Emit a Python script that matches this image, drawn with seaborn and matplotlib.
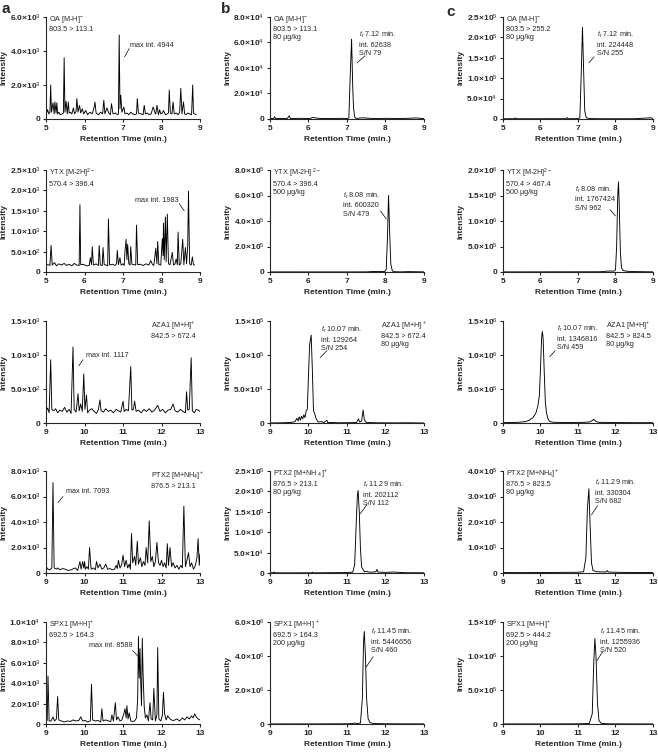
import math
import numpy as np
import seaborn as sns
import matplotlib.pyplot as plt
from matplotlib.ticker import FixedLocator, FuncFormatter

sns.set_style("ticks")
plt.rcParams["font.family"] = ["Liberation Sans", "DejaVu Sans"]
plt.rcParams["mathtext.fontset"] = "custom"
plt.rcParams["mathtext.rm"] = "Liberation Sans"
plt.rcParams["mathtext.it"] = "Liberation Sans:italic"
plt.rcParams["mathtext.bf"] = "Liberation Sans:bold"

# ---------------- data: column a (blank scan, 'max int.') ----------------
oa_a_t = [5.00, 5.04, 5.07, 5.10, 5.12, 5.14, 5.18, 5.21, 5.23, 5.26,
          5.28, 5.30, 5.33, 5.37, 5.42, 5.45, 5.47, 5.49, 5.52, 5.55,
          5.58, 5.60, 5.63, 5.67, 5.71, 5.74, 5.78, 5.80, 5.83, 5.87,
          5.90, 5.94, 5.98, 6.03, 6.08, 6.14, 6.20, 6.25, 6.27, 6.30,
          6.36, 6.42, 6.47, 6.50, 6.53, 6.58, 6.63, 6.67, 6.70, 6.74,
          6.80, 6.85, 6.88, 6.90, 6.92, 6.94, 6.97, 7.02, 7.05, 7.10,
          7.15, 7.20, 7.25, 7.30, 7.35, 7.37, 7.40, 7.46, 7.52, 7.55,
          7.58, 7.63, 7.68, 7.73, 7.78, 7.80, 7.83, 7.85, 7.88, 7.92,
          7.95, 7.98, 8.02, 8.05, 8.10, 8.15, 8.18, 8.20, 8.23, 8.27,
          8.30, 8.33, 8.38, 8.43, 8.47, 8.50, 8.53, 8.57, 8.60, 8.63,
          8.68, 8.73, 8.78, 8.81, 8.83, 8.86, 8.90]
oa_a_y = [250, 550, 300, 380, 2000, 400, 950, 300, 1000, 350,
          950, 300, 400, 250, 300, 350, 3600, 400, 1050, 300,
          1000, 350, 400, 300, 650, 300, 450, 1200, 400, 800,
          350, 600, 300, 500, 250, 400, 300, 700, 1000, 350,
          250, 400, 300, 1100, 300, 650, 350, 250, 900, 300,
          350, 250, 300, 4944, 600, 1400, 400, 700, 300, 350,
          250, 400, 300, 250, 300, 1200, 350, 300, 250, 800,
          300, 350, 250, 300, 700, 600, 350, 300, 800, 250,
          550, 300, 350, 500, 250, 300, 350, 1700, 350, 300,
          1000, 300, 350, 250, 400, 1800, 300, 1000, 300, 250,
          350, 300, 250, 2000, 350, 300, 250]

ytx_a_t = [5.00, 5.05, 5.10, 5.13, 5.16, 5.22, 5.27, 5.33, 5.40, 5.47,
           5.53, 5.60, 5.67, 5.73, 5.80, 5.86, 5.88, 5.90, 5.97, 6.05,
           6.12, 6.15, 6.18, 6.20, 6.23, 6.30, 6.36, 6.38, 6.41, 6.46,
           6.48, 6.51, 6.56, 6.60, 6.62, 6.65, 6.72, 6.79, 6.83, 6.85,
           6.88, 6.92, 6.95, 7.00, 7.03, 7.05, 7.08, 7.10, 7.12, 7.15,
           7.18, 7.20, 7.23, 7.28, 7.33, 7.35, 7.38, 7.45, 7.52, 7.60,
           7.67, 7.72, 7.76, 7.80, 7.85, 7.88, 7.90, 7.93, 7.98, 8.02,
           8.04, 8.05, 8.07, 8.10, 8.12, 8.15, 8.18, 8.22, 8.28, 8.31,
           8.35, 8.38, 8.41, 8.43, 8.46, 8.50, 8.55, 8.58, 8.62, 8.65,
           8.68, 8.70, 8.73, 8.77, 8.80, 8.83, 8.86]
ytx_a_y = [170, 180, 160, 650, 170, 230, 150, 200, 170, 210,
           160, 190, 150, 210, 170, 160, 1650, 180, 190, 150,
           160, 350, 180, 620, 170, 200, 160, 650, 170, 160,
           600, 180, 170, 150, 1300, 170, 190, 160, 200, 530,
           180, 350, 170, 200, 160, 500, 800, 300, 680, 200,
           170, 620, 190, 180, 170, 1150, 180, 190, 160, 200,
           170, 280, 190, 160, 580, 200, 750, 180, 170, 820,
           400, 1200, 300, 1350, 250, 1420, 200, 180, 480, 170,
           200, 320, 180, 980, 170, 200, 800, 180, 600, 200,
           650, 1983, 200, 170, 370, 180, 170]

aza_a_t = [9.00, 9.04, 9.08, 9.12, 9.15, 9.20, 9.25, 9.30, 9.36, 9.42,
           9.48, 9.54, 9.60, 9.65, 9.70, 9.73, 9.78, 9.83, 9.86, 9.90,
           9.94, 9.98, 10.01, 10.05, 10.08, 10.13, 10.19, 10.25, 10.31, 10.36,
           10.40, 10.43, 10.49, 10.55, 10.62, 10.68, 10.75, 10.82, 10.88, 10.94,
           11.00, 11.03, 11.08, 11.14, 11.20, 11.23, 11.27, 11.30, 11.34, 11.40,
           11.47, 11.54, 11.61, 11.68, 11.75, 11.82, 11.90, 11.96, 12.03, 12.10,
           12.17, 12.24, 12.30, 12.35, 12.42, 12.49, 12.56, 12.62, 12.65, 12.68,
           12.72, 12.77, 12.80, 12.85, 12.90, 12.95, 13.00]
aza_a_y = [170, 220, 150, 930, 200, 180, 210, 150, 190, 170,
           230, 160, 200, 140, 1117, 200, 160, 430, 180, 280,
           170, 720, 200, 410, 150, 190, 210, 170, 140, 200,
           340, 180, 160, 210, 170, 190, 150, 200, 180, 160,
           320, 170, 200, 180, 830, 190, 200, 320, 170, 190,
           150, 200, 170, 210, 160, 190, 260, 170, 200, 150,
           190, 200, 280, 180, 160, 200, 170, 150, 460, 190,
           200, 960, 180, 150, 200, 190, 170]

ptx_a_t = [9.00, 9.05, 9.10, 9.15, 9.18, 9.21, 9.27, 9.30, 9.36, 9.43,
           9.50, 9.57, 9.65, 9.72, 9.76, 9.82, 9.88, 9.91, 9.95, 9.98,
           10.00, 10.02, 10.06, 10.10, 10.13, 10.17, 10.23, 10.28, 10.31, 10.35,
           10.40, 10.45, 10.50, 10.55, 10.60, 10.66, 10.72, 10.78, 10.82, 10.85,
           10.88, 10.92, 10.96, 11.00, 11.04, 11.08, 11.12, 11.16, 11.19, 11.22,
           11.25, 11.30, 11.33, 11.37, 11.40, 11.45, 11.49, 11.53, 11.57, 11.60,
           11.64, 11.68, 11.72, 11.76, 11.80, 11.84, 11.88, 11.92, 11.96, 12.00,
           12.04, 12.08, 12.12, 12.15, 12.18, 12.22, 12.26, 12.30, 12.35, 12.40,
           12.45, 12.50, 12.54, 12.58, 12.62, 12.66, 12.70, 12.74, 12.78, 12.83,
           12.88, 12.92, 12.95, 12.98, 13.00]
ptx_a_y = [500, 300, 250, 400, 7093, 400, 300, 400, 250, 350,
           300, 200, 250, 350, 400, 200, 900, 300, 900, 400,
           900, 300, 500, 300, 2000, 300, 400, 250, 900, 400,
           700, 300, 400, 700, 300, 350, 250, 300, 600, 350,
           1000, 400, 600, 1400, 500, 1000, 400, 700, 300, 3100,
           800, 1300, 600, 2500, 700, 1200, 500, 900, 600, 2000,
           800, 4100, 900, 1300, 500, 900, 2400, 800, 600, 1000,
           500, 800, 400, 2300, 600, 2000, 500, 800, 400, 600,
           300, 600, 400, 5250, 500, 1000, 1600, 500, 800, 300,
           600, 1200, 2700, 600, 1500]

spx_a_t = [9.00, 9.03, 9.05, 9.08, 9.13, 9.18, 9.22, 9.27, 9.30, 9.33,
           9.40, 9.47, 9.55, 9.63, 9.70, 9.78, 9.85, 9.90, 9.95, 10.02,
           10.08, 10.15, 10.18, 10.21, 10.28, 10.35, 10.42, 10.45, 10.48, 10.55,
           10.62, 10.68, 10.71, 10.75, 10.80, 10.83, 10.87, 10.92, 10.97, 11.02,
           11.05, 11.08, 11.10, 11.13, 11.16, 11.20, 11.25, 11.30, 11.35, 11.38,
           11.40, 11.42, 11.44, 11.46, 11.48, 11.50, 11.52, 11.55, 11.58, 11.62,
           11.66, 11.70, 11.73, 11.77, 11.80, 11.84, 11.88, 11.90, 11.93, 11.98,
           12.02, 12.05, 12.08, 12.12, 12.16, 12.20, 12.25, 12.32, 12.40, 12.47,
           12.54, 12.60, 12.66, 12.72, 12.78, 12.82, 12.86, 12.90, 12.95, 13.00]
spx_a_y = [200, 400, 4700, 300, 300, 700, 300, 500, 2700, 400,
           300, 200, 300, 250, 400, 300, 350, 700, 300, 350,
           200, 300, 3900, 400, 300, 350, 200, 1500, 300, 400,
           300, 250, 900, 300, 2100, 400, 700, 300, 400, 1000,
           1500, 600, 1800, 500, 1100, 300, 250, 300, 600, 2500,
           8588, 4500, 7400, 4000, 1800, 8400, 5000, 1700, 600, 900,
           300, 2100, 500, 400, 3500, 300, 900, 7500, 500, 300,
           800, 3100, 1000, 400, 800, 600, 400, 350, 500, 300,
           600, 400, 700, 500, 800, 600, 1000, 700, 500, 400]

# ---------------- data: column b ----------------
oa_b_t = [5.00, 5.10, 5.12, 5.15, 5.45, 5.50, 5.53, 5.80, 6.05, 6.10,
          6.30, 6.60, 6.90, 7.00, 7.05, 7.08, 7.12, 7.15, 7.17, 7.20,
          7.24, 7.40, 7.70, 8.00, 8.40, 8.80, 9.00]
oa_b_y = [300, 400, 1800, 300, 400, 2500, 300, 500, 300, 1200,
          400, 300, 500, 300, 800, 30000, 62638, 25000, 9000, 1500,
          400, 900, 300, 500, 300, 800, 200]

ytx_b_t = [5.00, 5.50, 6.00, 6.50, 7.00, 7.50, 7.70, 7.80, 7.90, 7.98,
           8.02, 8.05, 8.08, 8.11, 8.14, 8.18, 8.25, 8.40, 8.60, 9.00]
ytx_b_y = [500, 800, 600, 700, 500, 1000, 4000, 3000, 5000, 3000,
           20000, 250000, 600320, 300000, 60000, 8000, 2000, 1000, 3000, 800]

aza_b_t = [9.00, 9.30, 9.55, 9.65, 9.70, 9.73, 9.76, 9.79, 9.82, 9.85,
           9.88, 9.91, 9.94, 9.97, 10.00, 10.03, 10.07, 10.10, 10.13, 10.16,
           10.20, 10.25, 10.35, 10.40, 10.48, 10.50, 10.55, 10.80, 11.10, 11.25,
           11.30, 11.33, 11.38, 11.42, 11.45, 11.50, 11.80, 12.20, 12.60, 13.00]
aza_b_y = [0, 300, 800, 2000, 7000, 3000, 9000, 4000, 10000, 6000,
           12000, 8000, 18000, 20000, 70000, 115000, 129264, 80000, 18000, 14000,
           6000, 1500, 2000, 500, 4000, 500, 800, 300, 500, 800,
           6000, 1500, 3000, 19000, 5000, 800, 300, 200, 300, 0]

ptx_b_t = [9.00, 9.08, 9.10, 9.12, 9.50, 10.00, 10.08, 10.10, 10.12, 10.50,
           10.90, 11.15, 11.20, 11.24, 11.27, 11.29, 11.32, 11.35, 11.38, 11.42,
           11.46, 11.50, 11.60, 11.75, 11.78, 11.80, 12.00, 12.20, 12.50, 13.00]
ptx_b_y = [500, 600, 2500, 500, 400, 600, 500, 2000, 500, 800,
           1000, 2000, 20000, 120000, 190000, 202112, 150000, 60000, 15000, 8000,
           3000, 4000, 2000, 3000, 9000, 2500, 1500, 2500, 800, 600]

spx_b_t = [9.00, 9.50, 10.00, 10.50, 11.00, 11.15, 11.20, 11.25, 11.35, 11.40,
           11.43, 11.45, 11.48, 11.51, 11.55, 11.60, 11.70, 12.00, 12.50, 13.00]
spx_b_y = [5000, 8000, 6000, 10000, 15000, 30000, 60000, 30000, 50000, 1500000,
           4800000, 5446656, 4000000, 1500000, 300000, 80000, 30000, 15000, 10000, 8000]

# ---------------- data: column c ----------------
oa_c_t = [5.00, 5.30, 5.33, 5.36, 5.80, 6.30, 6.68, 6.71, 6.74, 7.00,
          7.05, 7.08, 7.12, 7.15, 7.18, 7.22, 7.30, 7.60, 8.00, 8.50,
          8.95, 9.00]
oa_c_y = [500, 600, 2500, 600, 500, 700, 600, 3500, 600, 800,
          3000, 90000, 224448, 120000, 20000, 3000, 1000, 600, 500, 600,
          3000, 500]

ytx_c_t = [5.00, 6.00, 7.00, 7.60, 7.75, 7.85, 7.95, 8.00, 8.03, 8.06,
           8.08, 8.10, 8.13, 8.16, 8.20, 8.30, 8.50, 9.00]
ytx_c_y = [2000, 3000, 4000, 5000, 15000, 20000, 15000, 40000, 500000, 1500000,
           1767424, 1300000, 400000, 80000, 30000, 15000, 8000, 3000]

aza_c_t = [9.00, 9.40, 9.60, 9.70, 9.80, 9.88, 9.93, 9.97, 10.00, 10.03,
           10.05, 10.07, 10.10, 10.13, 10.16, 10.20, 10.25, 10.35, 10.60, 11.00,
           11.30, 11.38, 11.42, 11.46, 11.55, 12.00, 12.50, 13.00]
aza_c_y = [5000, 10000, 20000, 40000, 80000, 150000, 250000, 400000, 800000, 1250000,
           1346816, 1250000, 750000, 300000, 150000, 60000, 20000, 10000, 8000, 6000,
           15000, 35000, 55000, 30000, 10000, 6000, 5000, 5000]

ptx_c_t = [9.00, 9.50, 10.00, 10.50, 11.00, 11.15, 11.21, 11.25, 11.29, 11.32,
           11.36, 11.40, 11.50, 11.75, 11.78, 11.81, 12.00, 12.40, 13.00]
ptx_c_y = [2000, 1500, 2000, 2500, 3000, 5000, 60000, 250000, 330304, 200000,
           40000, 10000, 5000, 4000, 10000, 4000, 3000, 2000, 2000]

spx_c_t = [9.00, 9.50, 10.00, 10.50, 11.00, 11.20, 11.30, 11.38, 11.42, 11.45,
           11.48, 11.52, 11.56, 11.62, 11.80, 12.20, 12.60, 13.00]
spx_c_y = [1000, 1500, 1000, 2000, 3000, 6000, 8000, 150000, 900000, 1255936,
           1000000, 300000, 50000, 10000, 3000, 2000, 1500, 1000]

# y-axis tick values per panel
yticks_a = [[0, 2000, 4000, 6000], [0, 500, 1000, 1500, 2000, 2500],
            [0, 500, 1000, 1500], [0, 2000, 4000, 6000, 8000],
            [0, 2000, 4000, 6000, 8000, 10000]]
yticks_b = [[0, 2e4, 4e4, 6e4, 8e4], [0, 2e5, 4e5, 6e5, 8e5],
            [0, 5e4, 1e5, 1.5e5], [0, 5e4, 1e5, 1.5e5, 2e5, 2.5e5],
            [0, 2e6, 4e6, 6e6]]
yticks_c = [[0, 5e4, 1e5, 1.5e5, 2e5, 2.5e5], [0, 5e5, 1e6, 1.5e6, 2e6],
            [0, 5e5, 1e6, 1.5e6], [0, 1e5, 2e5, 3e5, 4e5],
            [0, 5e5, 1e6, 1.5e6]]

# panel texts
ion_a = ["OA [M-H]$^{-}$\n803.5 > 113.1",
         "YTX [M-2H]$^{2-}$\n570.4 > 396.4",
         "AZA1 [M+H]$^{+}$\n842.5 > 672.4",
         "PTX2 [M+NH$_4$]$^{+}$\n876.5 > 213.1",
         "SPX1 [M+H]$^{+}$\n692.5 > 164.3"]
ion_b = ["OA [M-H]$^{-}$\n803.5 > 113.1\n80 µg/kg",
         "YTX [M-2H] $^{2-}$\n570.4 > 396.4\n500 µg/kg",
         "AZA1 [M+H] $^{+}$\n842.5 > 672.4\n80 µg/kg",
         "PTX2 [M+NH $_4$]$^{+}$\n876.5 > 213.1\n80 µg/kg",
         "SPX1 [M+H] $^{+}$\n692.5 > 164.3\n200 µg/kg"]
ion_c = ["OA [M-H]$^{-}$\n803.5 > 255.2\n80 µg/kg",
         "YTX [M-2H]$^{2-}$\n570.4 > 467.4\n500 µg/kg",
         "AZA1 [M+H]$^{+}$\n842.5 > 824.5\n80 µg/kg",
         "PTX2 [M+NH$_4$]$^{+}$\n876.5 > 823.5\n80 µg/kg",
         "SPX1 [M+H]$^{+}$\n692.5 > 444.2\n200 µg/kg"]
max_int = [4944, 1983, 1117, 7093, 8588]
rt_b = [7.12, 8.08, 10.07, 11.29, 11.45]
int_b = [62638, 600320, 129264, 202112, 5446656]
sn_b = [79, 479, 254, 112, 460]
int_c = [224448, 1767424, 1346816, 330304, 1255936]
sn_c = [255, 962, 459, 682, 520]

traces = [
    [(oa_a_t, oa_a_y), (oa_b_t, oa_b_y), (oa_c_t, oa_c_y)],
    [(ytx_a_t, ytx_a_y), (ytx_b_t, ytx_b_y), (ytx_c_t, ytx_c_y)],
    [(aza_a_t, aza_a_y), (aza_b_t, aza_b_y), (aza_c_t, aza_c_y)],
    [(ptx_a_t, ptx_a_y), (ptx_b_t, ptx_b_y), (ptx_c_t, ptx_c_y)],
    [(spx_a_t, spx_a_y), (spx_b_t, spx_b_y), (spx_c_t, spx_c_y)],
]
xranges = [(5, 9), (5, 9), (9, 13), (9, 13), (9, 13)]


def sci(v, pos=None):
    if v == 0:
        return "0"
    e = int(math.floor(math.log10(v) + 1e-9))
    m = v / 10 ** e
    return f"{m:.1f}×10$^{{{e}}}$"


# layout (figure fractions)
col_left = [0.0700, 0.4103, 0.7644]
col_width = [0.2340, 0.234, 0.228]
row_bottom = [0.8418, 0.6383, 0.4375, 0.2380, 0.0372]
ax_h = 0.1356

# ion label position (axes fraction, top-left anchor)
ion_pos_a = [(0.02, 1.03), (0.02, 1.03), (0.68, 1.01), (0.68, 1.01), (0.02, 1.03)]
ion_pos_b = [(0.02, 1.03), (0.02, 1.03), (0.72, 1.01), (0.02, 1.03), (0.02, 1.03)]
ion_pos_c = [(0.02, 1.03), (0.02, 1.03), (0.69, 1.01), (0.02, 1.03), (0.02, 1.03)]
# annotations: text (x data, y frac of top), pointer start, pointer end
maxint_pos = [((7.19, 0.72), (7.04, 0.61), (7.16, 0.69)),
              ((7.32, 0.70), (8.59, 0.60), (8.46, 0.67)),
              ((10.03, 0.66), (9.85, 0.56), (9.96, 0.62)),
              ((9.52, 0.80), (9.31, 0.69), (9.44, 0.75)),
              ((10.11, 0.77), (11.40, 0.66), (11.25, 0.72))]
rt_pos_b = [((7.30, 0.87), (7.26, 0.55), (7.47, 0.62)),
            ((6.90, 0.80), (8.02, 0.52), (7.87, 0.60)),
            ((10.32, 0.96), (10.30, 0.64), (10.48, 0.71)),
            ((11.42, 0.91), (11.34, 0.58), (11.52, 0.67)),
            ((11.62, 0.95), (11.50, 0.56), (11.68, 0.66))]
rt_pos_c = [((7.51, 0.87), (7.29, 0.55), (7.43, 0.61)),
            ((6.92, 0.86), (8.00, 0.55), (7.86, 0.61)),
            ((10.45, 0.97), (10.25, 0.65), (10.39, 0.71)),
            ((11.45, 0.93), (11.36, 0.57), (11.52, 0.66)),
            ((11.58, 0.95), (11.50, 0.62), (11.66, 0.71))]

fig = plt.figure(figsize=(6.58, 7.52), dpi=100)
tick_fs = 6.0
lab_fs = 6.0
txt_fs = 5.2

for r in range(5):
    for c in range(3):
        ax = fig.add_axes([col_left[c], row_bottom[r], col_width[c], ax_h])
        t, y = traces[r][c]
        sns.lineplot(x=t, y=y, ax=ax, color="black", lw=0.65,
                     estimator=None, sort=False)
        yt = [yticks_a, yticks_b, yticks_c][c][r]
        ymax = yt[-1]
        ax.set_xlim(*xranges[r])
        ax.set_ylim(0, ymax)
        ax.set_xticks(np.arange(xranges[r][0], xranges[r][1] + 1))
        ax.yaxis.set_major_locator(FixedLocator(yt))
        ax.yaxis.set_major_formatter(FuncFormatter(sci))
        sns.despine(ax=ax)
        for s in ["left", "bottom"]:
            ax.spines[s].set_linewidth(0.8)
        ax.tick_params(length=2.5, width=0.8, labelsize=tick_fs, pad=1.5)
        for lbl in ax.get_xticklabels() + ax.get_yticklabels():
            lbl.set_fontweight("bold")
        ax.set_xlabel("Retention Time (min.)", fontsize=lab_fs,
                      fontweight="bold", labelpad=3)
        ax.set_ylabel("Intensity", fontsize=lab_fs, fontweight="bold",
                      labelpad=1.5)

        if c == 0:
            px, py = ion_pos_a[r]
            ax.text(px, py, ion_a[r], transform=ax.transAxes, fontsize=txt_fs,
                    va="top", ha="left", linespacing=1.2)
            (tx, tyf), (lx0, ly0), (lx1, ly1) = maxint_pos[r]
            ax.text(tx, tyf * ymax, f"max int. {max_int[r]}", fontsize=txt_fs,
                    va="center", ha="left")
            ax.plot([lx0, lx1], [ly0 * ymax, ly1 * ymax], color="black", lw=0.5)
        else:
            ions = ion_b if c == 1 else ion_c
            ipos = ion_pos_b if c == 1 else ion_pos_c
            ax.text(ipos[r][0], ipos[r][1], ions[r], transform=ax.transAxes,
                    fontsize=txt_fs, va="top", ha="left", linespacing=1.2)
            pos = rt_pos_b if c == 1 else rt_pos_c
            ints = int_b if c == 1 else int_c
            sns_ = sn_b if c == 1 else sn_c
            (tx, tyf), (lx0, ly0), (lx1, ly1) = pos[r]
            ax.text(tx, tyf * ymax,
                    f"$\\it{{t}}_r$ {rt_b[r]:.2f} min.\nint. {ints[r]}\nS/N {sns_[r]}",
                    fontsize=txt_fs, va="top", ha="left", linespacing=1.3)
            ax.plot([lx0, lx1], [ly0 * ymax, ly1 * ymax], color="black", lw=0.5)

fig.text(0.002, 0.998, "a", fontsize=11, fontweight="bold", va="top")
fig.text(0.336, 0.998, "b", fontsize=11, fontweight="bold", va="top")
fig.text(0.678, 0.994, "c", fontsize=11, fontweight="bold", va="top")

fig.savefig("out.png", dpi=100)
